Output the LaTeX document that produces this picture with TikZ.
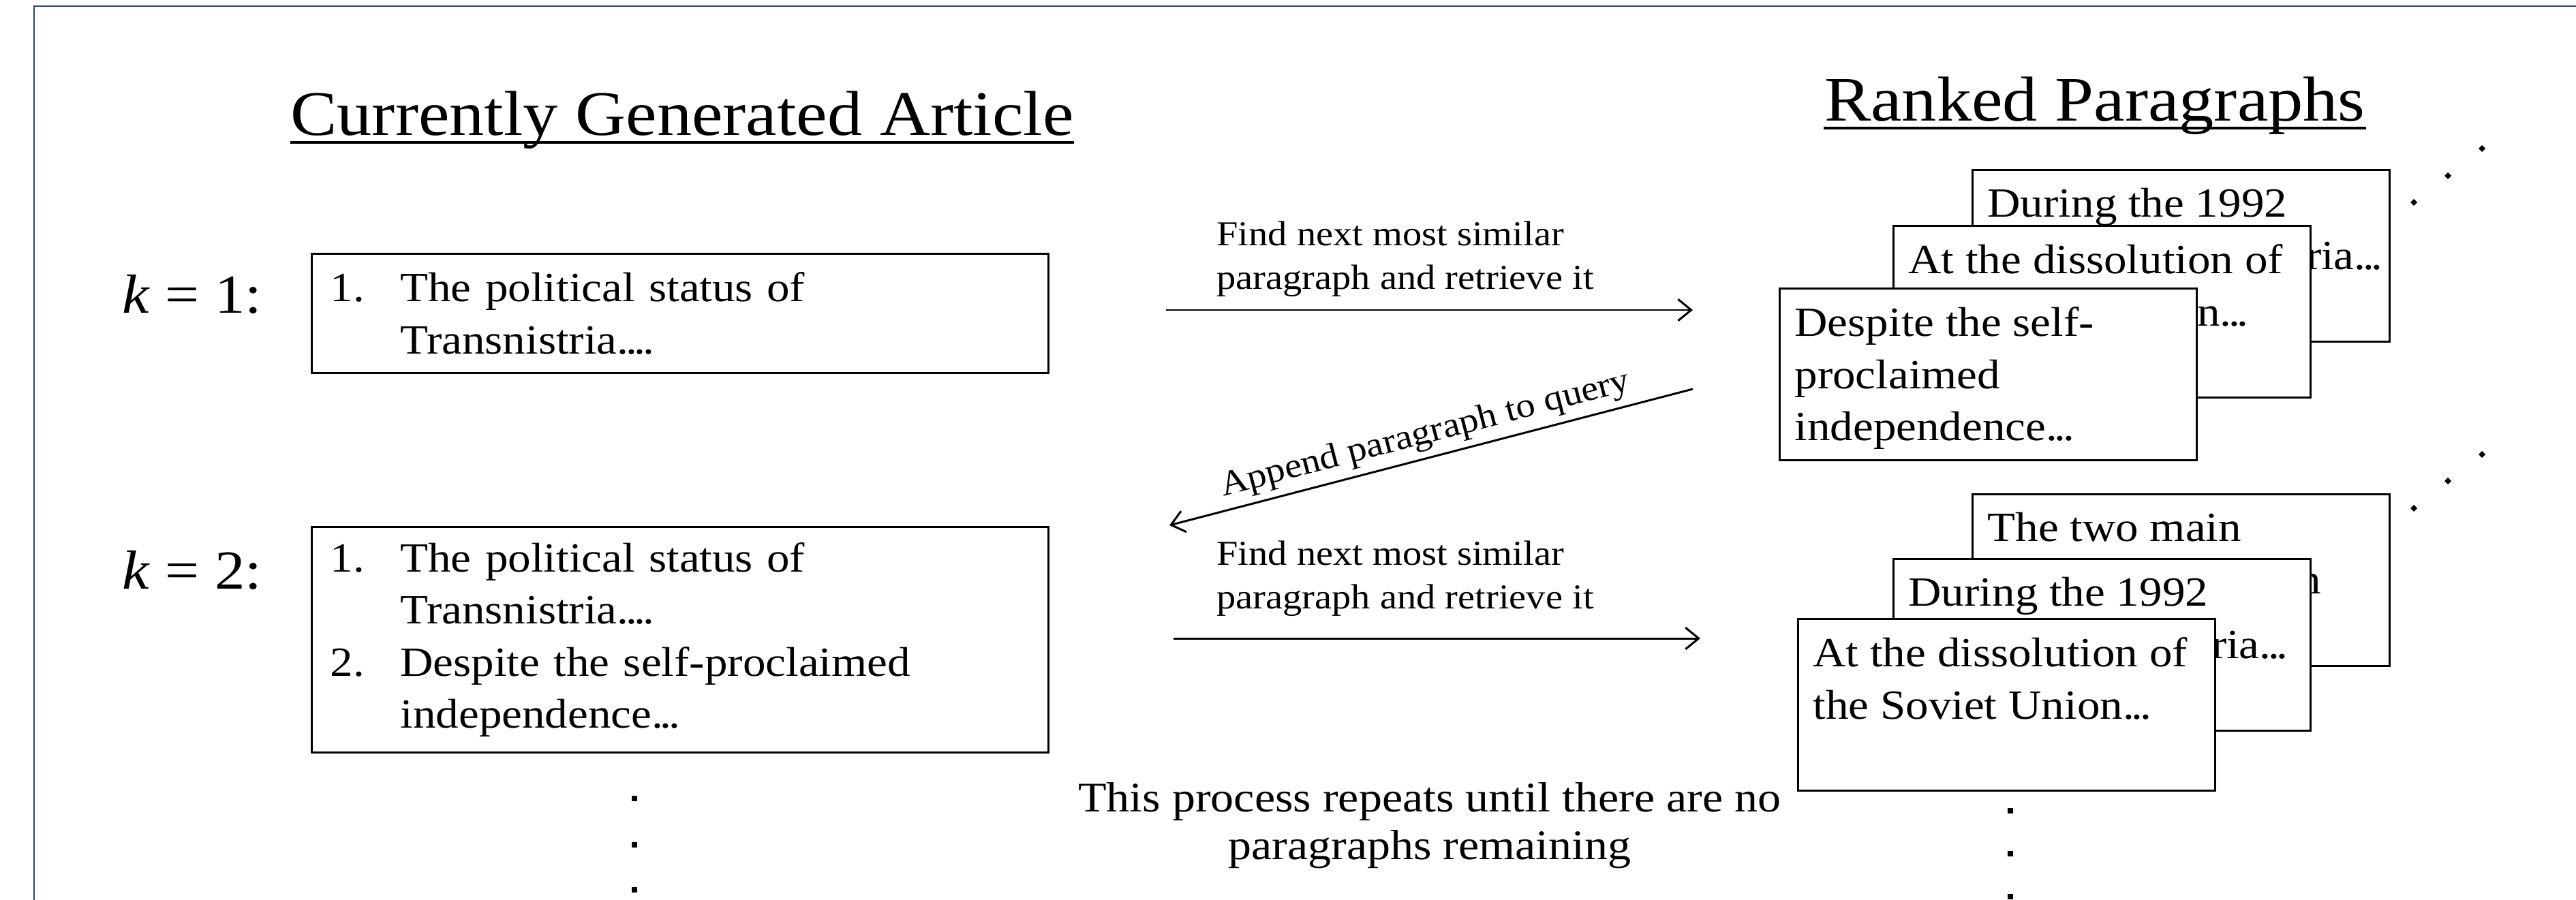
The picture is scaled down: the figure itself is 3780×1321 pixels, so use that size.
\documentclass[tikz,border=0pt]{standalone}
\usepackage{fontspec}
\setmainfont{Liberation Serif}[FakeStretch=1.1]
\usetikzlibrary{arrows.meta}

\definecolor{frameblue}{RGB}{38,66,132}

% fixed-size card text, aligned to the top
\newcommand{\cardtxt}[1]{\parbox[c][19.8mm][t]{56.8mm}{\raggedright #1}}
\newcommand{\num}[1]{\makebox[10.3mm][l]{#1}}
% narrow dots, as in the original
\newcommand{\ddd}{.\kern-0.07em.\kern-0.07em.}
% end of a line that is mostly hidden behind the next card
\newcommand{\tailtxt}[2]{\hspace*{\fill}#1\kern#2}

\tikzset{
  title/.style={inner sep=0pt, font=\fontsize{26.5}{30}\selectfont},
  klabel/.style={inner sep=0pt, font=\fontsize{23}{27}\selectfont},
  artbox/.style={draw, line width=0.85pt, anchor=north west, inner xsep=2.7mm,
    text width=102.7mm, minimum height=17.5mm, align=left,
    font=\fontsize{17.35}{21.8}\selectfont},
  card/.style={draw, fill=white, line width=0.85pt, anchor=north west,
    inner xsep=2.2mm, inner ysep=2.7mm, font=\fontsize{17.35}{21.8}\selectfont},
  lbl/.style={inner sep=0pt, align=left, font=\fontsize{14.6}{18.2}\selectfont},
  flow/.style={line width=0.85pt, -{Straight Barb[length=5.5pt,width=9pt]}},
}

\begin{document}
\begin{tikzpicture}[x=0.1mm,y=-0.1mm]
\useasboundingbox (0,0) rectangle (3780,1321);
\draw[frameblue, line width=0.7pt] (50,1330) |- (3790,9);

% left column
\node[title, anchor=base] (arttitle) at (1001,199) {Currently Generated Article};
\draw[line width=1.35pt] ([yshift=-1mm]arttitle.base west) -- ([yshift=-1mm]arttitle.base east);

\node[klabel, anchor=base east] (k1) at (385,459) {\textit{k} = 1:};
\node[klabel, anchor=base east] (k2) at (385,864) {\textit{k} = 2:};

\node[artbox] (art1) at (456,371) {\num{1.}The political status of\\
  \hspace*{10.3mm}Transnistria\ddd\kern-0.07em.};
\node[artbox, minimum height=33.1mm] (art2) at (456,772) {\num{1.}The political status of\\
  \hspace*{10.3mm}Transnistria\ddd\kern-0.07em.\\
  \num{2.}Despite the self-proclaimed\\
  \hspace*{10.3mm}independence\ddd};

\foreach \y in {1172,1240,1306}
  \fill (927,\y-4) rectangle ++(8,8);

% right column
\node[title, anchor=base] (ranktitle) at (3074,178) {Ranked Paragraphs};
\draw[line width=1.35pt] ([yshift=-1mm]ranktitle.base west) -- ([yshift=-1mm]ranktitle.base east);

\node[card] (c13) at (2893,248) {\cardtxt{During the 1992\\ \tailtxt{ria\ddd}{-1.2mm}}};
\node[card] (c12) at (2777,330) {\cardtxt{At the dissolution of\\ \tailtxt{n\ddd}{6.9mm}}};
\node[card] (c11) at (2610,422) {\cardtxt{Despite the self-\\ proclaimed\\ independence\ddd}};

\node[card] (c23) at (2893,724) {\cardtxt{The two main\\ \tailtxt{n}{7.8mm}}};
\node[card] (c22) at (2777,819) {\cardtxt{During the 1992\\ \tailtxt{ria\ddd}{1.1mm}}};
\node[card] (c21) at (2637,907) {\cardtxt{At the dissolution of\\ the Soviet Union\ddd}};

\foreach \x/\y in {3642/218,3592/258,3542/297,3642/667,3592/706,3542/746}
  \fill (\x,\y-5) -- ++(5,5) -- ++(-5,5) -- ++(-5,-5) -- cycle;
\foreach \y in {1190,1253,1316}
  \fill (2946,\y-4) rectangle ++(8,8);

% arrows between the columns
\coordinate (f1a) at (1711,455);
\coordinate (f1b) at (2484,455);
\coordinate (apa) at (2484,571);
\coordinate (apb) at (1716,771);
\coordinate (f2a) at (1722,937);
\coordinate (f2b) at (2495,937);

\draw[flow] (f1a) -- (f1b) node[lbl, pos=0, anchor=south west, xshift=7.3mm, yshift=1.8mm]
  {Find next most similar\\ paragraph and retrieve it};
\draw[flow] (apa) -- (apb) node[lbl, pos=0.5, sloped, above, inner sep=2.5pt]
  {Append paragraph to query};
\draw[flow] (f2a) -- (f2b) node[lbl, pos=0, anchor=south west, xshift=6.2mm, yshift=3.1mm]
  {Find next most similar\\ paragraph and retrieve it};

\node[anchor=north, inner sep=0pt, align=center, font=\fontsize{17.6}{19.8}\selectfont] (repeat) at (2098,1148)
  {This process repeats until there are no\\ paragraphs remaining};
\end{tikzpicture}
\end{document}
